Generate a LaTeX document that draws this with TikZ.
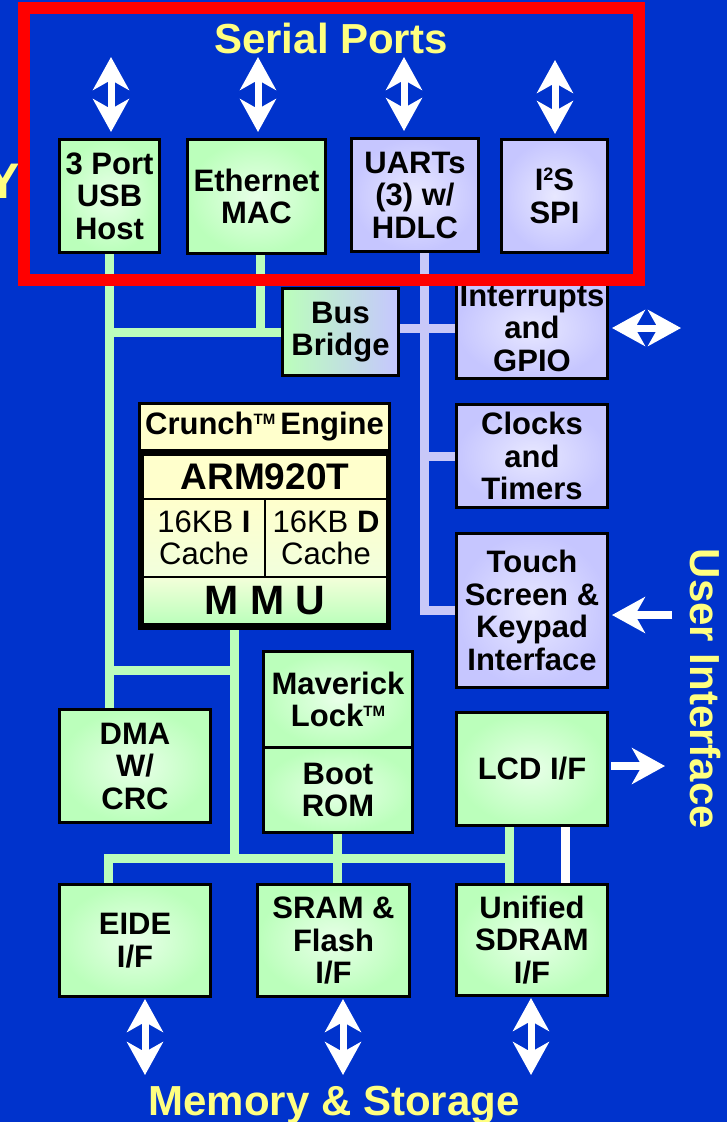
\documentclass[tikz,border=0pt]{standalone}
\usepackage{fontspec}
\setmainfont{Liberation Sans}
\usetikzlibrary{arrows.meta}
\pgfdeclarelayer{bus}
\pgfsetlayers{bus,main}
\definecolor{bg}{HTML}{0033CC}
\definecolor{gfill}{HTML}{BBFFBB}
\definecolor{gin}{HTML}{E8FFE8}
\definecolor{lfill}{HTML}{C6C6FF}
\definecolor{lin}{HTML}{E8E8FF}
\definecolor{cream}{HTML}{FFFFCC}
\definecolor{ylw}{HTML}{FFFF80}
\definecolor{gbus}{HTML}{BBFFBB}
\definecolor{lbus}{HTML}{C8C8F8}
\newcommand\bxfont{\fontsize{31}{32.5}\selectfont\bfseries}
\newcommand\hdfont{\fontsize{42}{42}\selectfont\bfseries}
\newcommand\tmark{\raisebox{10pt}{\fontsize{15}{15}\selectfont TM}}
\begin{document}
\begin{tikzpicture}[x=1pt,y=-1pt,
  box/.style={draw=black, line width=3pt, inner sep=0pt, align=center, font=\bxfont},
  gbox/.style={box, shading=radial, inner color=gin, outer color=gfill},
  lbox/.style={box, shading=radial, inner color=lin, outer color=lfill},
  cpart/.style={draw=black, line width=2pt, inner sep=0pt, align=center},
  gline/.style={draw=gbus, line width=9pt},
  lline/.style={draw=lbus, line width=9pt, line join=miter},
  wline/.style={draw=white, line width=9pt},
  tipS/.tip={Stealth[length=33pt,width=36pt,inset=10pt]},
  dbl/.style={draw=white, line width=7pt, arrows={tipS-tipS}},
  sgl/.style={draw=white, line width=8pt, arrows={-tipS}},
  head/.style={text=ylw, font=\hdfont, inner sep=0pt}]
\useasboundingbox (0,0) rectangle (727,1122);
\begin{pgfonlayer}{bus}
\fill[bg] (0,0) rectangle (727,1122);
\end{pgfonlayer}

% ---- blocks ----
\path
  node[gbox, minimum width=100, minimum height=113] (usb) at (109.5,196) {3 Port\\USB\\Host}
  node[gbox, minimum width=138, minimum height=114] (eth) at (256.5,196.5) {Ethernet\\MAC}
  node[lbox, minimum width=127, minimum height=113] (uart) at (415,195) {UARTs\\(3) w/\\HDLC}
  node[lbox, minimum width=106, minimum height=113] (i2s) at (554.5,196) {I\raisebox{10pt}{\fontsize{18}{18}\selectfont 2}S\\SPI}
  node[box, left color=gfill, right color=lfill, minimum width=116, minimum height=87] (bridge) at (340.5,332) {Bus\\Bridge}
  node[lbox, minimum width=151, minimum height=101] (intr) at (532,328) {Interrupts\\and\\GPIO}
  node[lbox, minimum width=151, minimum height=103] (clocks) at (532,456) {Clocks\\and\\Timers}
  node[lbox, minimum width=151, minimum height=154] (touch) at (532,610.5) {Touch\\Screen \&\\Keypad\\Interface}
  node[gbox, minimum width=149, minimum height=95.5] (mav) at (338,699.25) {Maverick\\Lock\tmark}
  node[gbox, minimum width=149, minimum height=85.5] (boot) at (338,789.75) {Boot\\ROM}
  node[gbox, minimum width=151, minimum height=113] (dma) at (135,766) {DMA\\W/\\CRC}
  node[gbox, minimum width=151, minimum height=113] (lcd) at (532,769) {LCD I/F}
  node[gbox, minimum width=151, minimum height=112] (eide) at (135,940.5) {EIDE\\I/F}
  node[gbox, minimum width=152, minimum height=112] (sram) at (333.5,940.5) {SRAM \&\\Flash\\I/F}
  node[gbox, minimum width=151, minimum height=111] (sdram) at (532,940) {Unified\\SDRAM\\I/F};

% ---- Crunch engine / ARM920T block ----
\node[cpart, line width=3pt, fill=cream, minimum width=250, minimum height=46.5, font=\bxfont] (crunch) at (264.5,426.75) {Crunch\tmark\,Engine};
\node[draw=black, line width=5pt, minimum width=248, minimum height=175, inner sep=0pt] (frame) at (264.5,540) {};
\node[cpart, fill=cream, minimum width=244, minimum height=44, font=\fontsize{37}{37}\selectfont\bfseries] (arm) at (265,477) {ARM920T};
\node[cpart, top color=cream, bottom color=gin!60!cream, minimum width=122, minimum height=78, font=\fontsize{31}{32.5}\selectfont] (icache) at (204,538) {16KB \textbf{I}\\Cache};
\node[cpart, top color=cream, bottom color=gin!60!cream, minimum width=122, minimum height=78, font=\fontsize{31}{32.5}\selectfont] (dcache) at (326,538) {16KB \textbf{D}\\Cache};
\node[cpart, top color=gin!50!cream, bottom color=gfill, minimum width=244, minimum height=47, font=\fontsize{41}{41}\selectfont\bfseries] (mmu) at (265,600.5) {M M U};

% ---- bus coordinates ----
\coordinate (mmux) at (234.5,0);
\coordinate (busL) at (108.5,858);
\coordinate (busR) at (509,858);
\coordinate (dmaJ) at (109.5,670);
\coordinate (mmuJ) at (234.5,670);

\begin{pgfonlayer}{bus}
% green system bus
\draw[gline] (usb.south) -- (usb.south |- dma.north);
\draw[gline] ([xshift=3.5pt]eth.south) -- ([xshift=3.5pt,yshift=-4.5pt]eth.south |- bridge.west);
\draw[gline] (usb.south |- bridge.west) -- (bridge.west);
\draw[gline] (dmaJ) -- (mmuJ);
\draw[gline] (mmux |- frame.south) -- ([yshift=-4.5pt]mmux |- busL);
\draw[gline] ([xshift=-4.5pt]busL) -- ([xshift=4.5pt]busR);
\draw[gline] (busL) -- (busL |- eide.north);
\draw[gline] ([xshift=-1pt]boot.south) -- ([xshift=-1pt]boot.south |- sram.north);
\draw[gline] (busR |- lcd.south) -- (busR |- sdram.north);
\draw[wline] ([xshift=33pt]lcd.south) -- ([xshift=33pt]lcd.south |- sdram.north);
% lavender peripheral bus
\draw[lline] ([xshift=9pt]uart.south) |- (touch.west);
\draw[lline] (bridge.east |- intr.west) -- (intr.west);
\draw[lline] ([xshift=9pt]uart.south |- clocks.west) -- (clocks.west);
\end{pgfonlayer}

% ---- external arrows ----
\coordinate (a1) at (111,57);
\coordinate (a2) at (258,57);
\coordinate (a3) at (404,57);
\coordinate (a4) at (555,60);
\coordinate (b1) at (145,1075);
\coordinate (b2) at (343,1075);
\coordinate (b3) at (531,1075);
\coordinate (c1) at (681,328);
\coordinate (c2) at (672,615);
\coordinate (c3) at (665,766);
\draw[dbl, shorten >=6pt] (a1) -- (a1 |- usb.north);
\draw[dbl, shorten >=6pt] (a2) -- (a2 |- eth.north);
\draw[dbl, shorten >=6pt] (a3) -- (a3 |- uart.north);
\draw[dbl, shorten >=4pt] (a4) -- (a4 |- i2s.north);
\draw[dbl, shorten <=1pt] (b1 |- eide.south) -- (b1);
\draw[dbl, shorten <=1pt] (b2 |- sram.south) -- (b2);
\draw[dbl, shorten <=1pt] (b3 |- sdram.south) -- (b3);
\draw[dbl, shorten <=3pt] (c1 -| intr.east) -- (c1);
\draw[sgl, shorten >=3pt] (c2) -- (c2 -| touch.east);
\draw[sgl, shorten <=2pt] (c3 -| lcd.east) -- (c3);

% ---- headings ----
\node[head, anchor=base] (serial) at (331,53) {Serial Ports};
\node[head, anchor=base] (memory) at (334,1115) {Memory \& Storage};
\node[head, anchor=base, rotate=-90] (user) at (690,689) {User Interface};
\node[head, anchor=base, font=\fontsize{50}{50}\selectfont\bfseries] (cutY) at (3,198) {Y};

% ---- red highlight frame ----
\draw[red, line width=12pt] (24,8) rectangle (639,279.5);
\end{tikzpicture}
\end{document}
